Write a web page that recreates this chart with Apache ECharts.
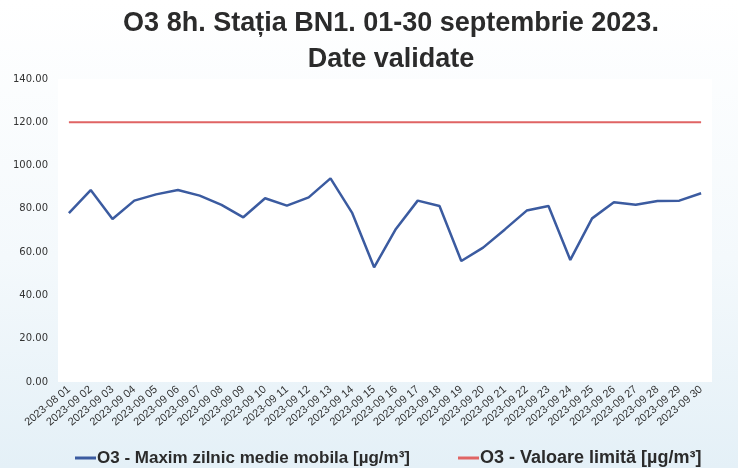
<!DOCTYPE html>
<html>
<head>
<meta charset="utf-8">
<script src="https://cdn.jsdelivr.net/npm/echarts@6/dist/echarts.min.js"></script>
<style>
  html, body { margin: 0; padding: 0; }
  #chart { width: 738px; height: 468px; }
</style>
</head>
<body>
<div id="chart"></div>
<script>
// zilele din septembrie (prima eticheta e asa in original)
var days = [
  '2023-08 01', '2023-09 02', '2023-09 03', '2023-09 04', '2023-09 05',
  '2023-09 06', '2023-09 07', '2023-09 08', '2023-09 09', '2023-09 10',
  '2023-09 11', '2023-09 12', '2023-09 13', '2023-09 14', '2023-09 15',
  '2023-09 16', '2023-09 17', '2023-09 18', '2023-09 19', '2023-09 20',
  '2023-09 21', '2023-09 22', '2023-09 23', '2023-09 24', '2023-09 25',
  '2023-09 26', '2023-09 27', '2023-09 28', '2023-09 29', '2023-09 30'
]
var maxDaily = [
  78.0, 88.7, 75.3, 83.8, 86.7, 88.7, 86.1, 81.8, 76.1, 84.9,
  81.5, 85.3, 94.1, 78.0, 53.0, 70.7, 83.8, 81.3, 55.9, 62.1,
  70.5, 79.2, 81.3, 56.4, 75.6, 83.0, 81.9, 83.6, 83.8, 87.2
]
var limitValue = days.map(function () { return 120 })

var chart = echarts.init(document.getElementById('chart'))
chart.setOption({
  backgroundColor: {
    type: 'linear', x: 0, y: 0, x2: 0, y2: 1,
    colorStops: [
      { offset: 0, color: '#ffffff' },
      { offset: 0.55, color: '#f4f9fc' },
      { offset: 1, color: '#e4f0f7' }
    ]
  },
  title: {
    text: 'O3 8h. Stația BN1. 01-30 septembrie 2023.\nDate validate',
    left: 386,
    textAlign: 'center',
    top: 1,
    textStyle: {
      fontFamily: 'Liberation Sans',
      fontSize: 27,
      fontWeight: 'bold',
      color: '#2b2b2b',
      lineHeight: 36
    }
  },
  grid: {
    left: 58,
    right: 26,
    top: 79,
    bottom: 86,
    show: true,
    backgroundColor: '#ffffff',
    borderWidth: 0
  },
  legend: {
    top: 444,
    left: 70,
    itemGap: 48,
    itemWidth: 21,
    itemHeight: 3,
    icon: 'rect',
    textStyle: {
      fontFamily: 'Liberation Sans',
      fontSize: 17,
      fontWeight: 'bold',
      color: '#2b2b2b',
      padding: [0, 0, 0, -4]
    },
    data: [
      'O3 - Maxim zilnic medie mobila [µg/m³]',
      { name: 'O3 - Valoare limită [µg/m³]', textStyle: { fontSize: 18 } }
    ]
  },
  xAxis: {
    type: 'category',
    data: days,
    boundaryGap: true,
    axisLine: { show: false },
    axisTick: { show: false },
    axisLabel: {
      rotate: 40,
      interval: 0,
      margin: 6,
      fontFamily: 'Liberation Sans',
      fontSize: 11,
      color: '#333333'
    }
  },
  yAxis: {
    type: 'value',
    min: 0,
    max: 140,
    interval: 20,
    splitLine: { show: false },
    axisLine: { show: false },
    axisTick: { show: false },
    axisLabel: {
      margin: 10,
      fontFamily: 'DejaVu Sans',
      fontSize: 10,
      color: '#333333',
      formatter: function (v) { return v.toFixed(2) }
    }
  },
  series: [
    {
      name: 'O3 - Maxim zilnic medie mobila [µg/m³]',
      type: 'line',
      data: maxDaily,
      symbol: 'none',
      color: '#3b5ba0',
      lineStyle: { color: '#3b5ba0', width: 2.5 },
      animation: false
    },
    {
      name: 'O3 - Valoare limită [µg/m³]',
      type: 'line',
      data: limitValue,
      symbol: 'none',
      color: '#e06464',
      lineStyle: { color: '#e06464', width: 2 },
      animation: false
    }
  ]
})
</script>
</body>
</html>
